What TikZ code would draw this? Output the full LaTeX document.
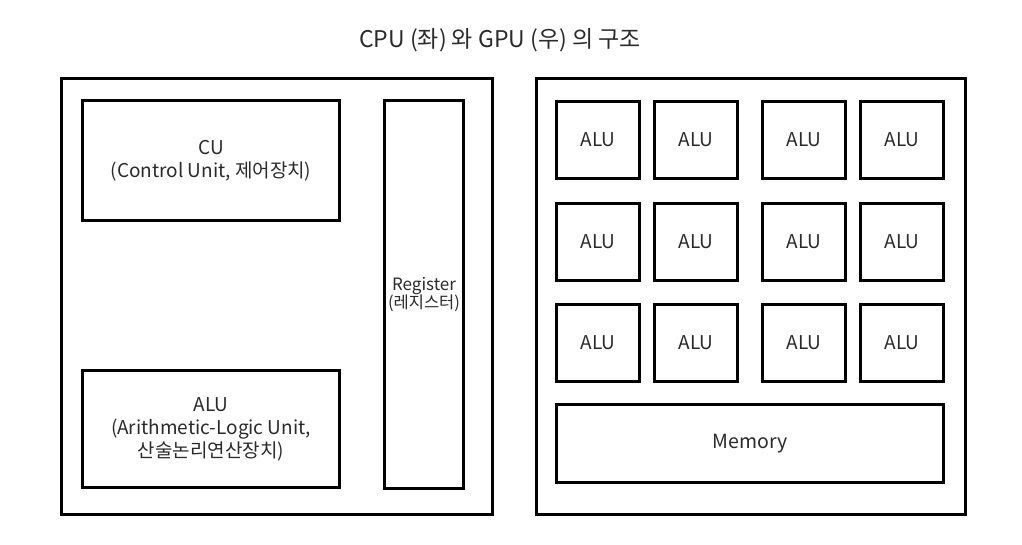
\documentclass[tikz,border=0pt]{standalone}
\usepackage{fontspec}
\setmainfont{Noto Sans CJK KR}
\usetikzlibrary{positioning}
\definecolor{txtgray}{HTML}{2A2A2A}

\begin{document}
\begin{tikzpicture}[x=1pt, y=-1pt,
  box/.style={draw, line width=3pt, minimum width=#1, inner sep=0pt, text=txtgray, align=center},
  alubox/.style={box=83pt, minimum height=77pt, font=\fontsize{19}{23}\selectfont}]
\useasboundingbox (0,0) rectangle (1022,544);
\node[text=txtgray, font=\fontsize{23}{26}\selectfont] (title) at (500,40) {CPU (좌) 와 GPU (우) 의 구조};

% CPU
\node[box=431pt, minimum height=436pt] (cpu) at (277,296.5) {};
\node[box=257pt, minimum height=120pt, font=\fontsize{19}{23}\selectfont] (cu) at (211,160.5) {CU\\(Control Unit, 제어장치)};
\node[box=257pt, minimum height=117pt, font=\fontsize{19}{23}\selectfont] (alu) at (211,429) {ALU\\(Arithmetic-Logic Unit,\\산술논리연산장치)};
\node[box=79pt, minimum height=388pt, font=\fontsize{17}{18}\selectfont] (reg) at (424,294.5) {Register\\{\fontsize{16.5}{18}\selectfont (레지스터)}};

% GPU
\node[box=429pt, minimum height=436pt] (gpu) at (751,296.5) {};
\foreach \c/\x in {1/598,2/696,3/804,4/902}
  \foreach \r/\y in {1/139.5,2/242,3/342.5}
    \node[alubox] (alu\r\c) at (\x,\y) {ALU};
\node[box=387pt, minimum height=78pt, font=\fontsize{19.5}{23}\selectfont] (mem) at (750,443.5) {Memory};
\end{tikzpicture}
\end{document}
